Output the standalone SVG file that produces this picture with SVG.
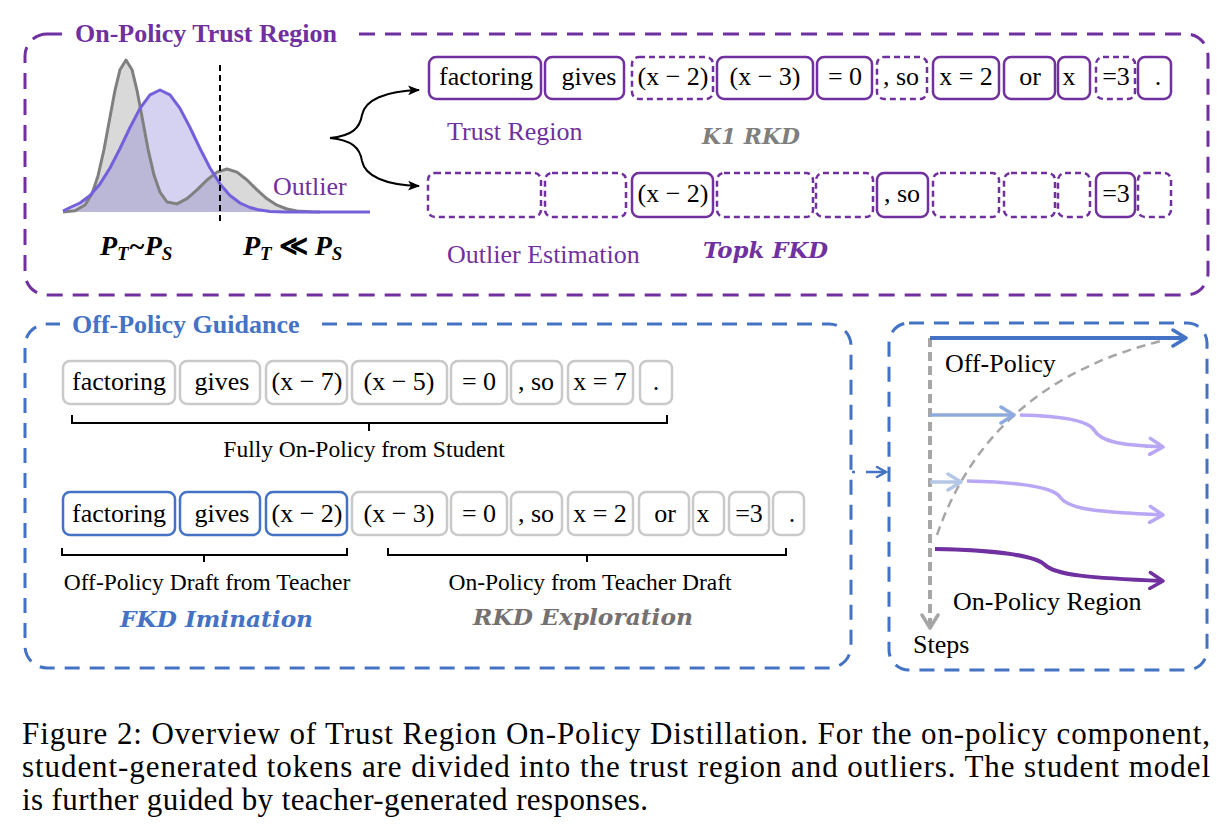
<svg xmlns="http://www.w3.org/2000/svg" width="1229" height="832" viewBox="0 0 1229 832">
<style>
.t{font-family:"Liberation Serif","Times New Roman",serif;font-size:26px;fill:#000;text-anchor:middle}
.s{font-family:"Liberation Serif","Times New Roman",serif;font-size:23.5px;fill:#000;text-anchor:middle}
.lab{font-family:"Liberation Serif","Times New Roman",serif;font-size:26px;fill:#000}
.pl{font-family:"Liberation Serif","Times New Roman",serif;font-size:26px;fill:#7030A0}
.bi{font-family:"DejaVu Serif",serif;font-weight:bold;font-style:italic;font-size:22px}
.title{font-family:"Liberation Serif","Times New Roman",serif;font-weight:bold;font-size:26px}
.cap{font-family:"Liberation Serif","Times New Roman",serif;font-size:31px;fill:#000}
.ps{fill:none;stroke:#7030A0;stroke-width:2.5}
.pd{fill:none;stroke:#7030A0;stroke-width:2.5;stroke-dasharray:6 4}
.gs{fill:none;stroke:#C9C9C9;stroke-width:2.5}
.bs{fill:none;stroke:#4472C4;stroke-width:2.5}
.brace{fill:none;stroke:#000;stroke-width:2}
</style>
<defs>
<marker id="mk" viewBox="0 0 12 10" refX="11" refY="5" markerWidth="12" markerHeight="10" markerUnits="userSpaceOnUse" orient="auto"><path d="M0,0 L12,5 L0,10 L3,5 Z" fill="#000"/></marker>
<marker id="cb" viewBox="0 0 20 20" refX="17" refY="10" markerWidth="20" markerHeight="20" markerUnits="userSpaceOnUse" orient="auto"><path d="M4,2 L17,10 L4,18" fill="none" stroke="#4472C4" stroke-width="3.5" stroke-linecap="round" stroke-linejoin="round"/></marker>
<marker id="cl1" viewBox="0 0 20 20" refX="17" refY="10" markerWidth="20" markerHeight="20" markerUnits="userSpaceOnUse" orient="auto"><path d="M4,2 L17,10 L4,18" fill="none" stroke="#8FAADC" stroke-width="3.5" stroke-linecap="round" stroke-linejoin="round"/></marker>
<marker id="cl2" viewBox="0 0 20 20" refX="17" refY="10" markerWidth="20" markerHeight="20" markerUnits="userSpaceOnUse" orient="auto"><path d="M4,2 L17,10 L4,18" fill="none" stroke="#B4C7E7" stroke-width="3.5" stroke-linecap="round" stroke-linejoin="round"/></marker>
<marker id="cv" viewBox="0 0 20 20" refX="17" refY="10" markerWidth="20" markerHeight="20" markerUnits="userSpaceOnUse" orient="auto"><path d="M4,2 L17,10 L4,18" fill="none" stroke="#B9A6F5" stroke-width="3.5" stroke-linecap="round" stroke-linejoin="round"/></marker>
<marker id="cp" viewBox="0 0 20 20" refX="17" refY="10" markerWidth="20" markerHeight="20" markerUnits="userSpaceOnUse" orient="auto"><path d="M4,2 L17,10 L4,18" fill="none" stroke="#7030A0" stroke-width="3.5" stroke-linecap="round" stroke-linejoin="round"/></marker>
<marker id="cg" viewBox="0 0 20 20" refX="17" refY="10" markerWidth="20" markerHeight="20" markerUnits="userSpaceOnUse" orient="auto"><path d="M4,2 L17,10 L4,18" fill="none" stroke="#A6A6A6" stroke-width="3.5" stroke-linecap="round" stroke-linejoin="round"/></marker>
<marker id="cs" viewBox="0 0 14 14" refX="12" refY="7" markerWidth="14" markerHeight="14" markerUnits="userSpaceOnUse" orient="auto"><path d="M3,2 L12,7 L3,12" fill="none" stroke="#4472C4" stroke-width="2.5" stroke-linecap="round"/></marker>
</defs>
<rect width="1229" height="832" fill="#fff"/>

<!-- On-Policy Trust Region panel -->
<g id="trust-region-panel">
<rect x="25" y="34" width="1183" height="261" rx="22" fill="none" stroke="#7030A0" stroke-width="3" stroke-dasharray="16 10"/>
<rect x="62" y="20" width="290" height="30" fill="#fff"/>
<text class="title" x="75" y="42" fill="#7030A0">On-Policy Trust Region</text>
</g>

<g id="distribution">
<path d="M63,211.9 L75,210.7 L85,205 L92,193.8 L98,175.9 L104,149.5 L110,117 L115,90.3 L120,69.7 L126,60 L132,69.7 L137,90.3 L142,116.8 L148,149.1 L154,175.1 L160,192.2 L167,202 L177,203.9 L187,198.6 L197,189.9 L207,180 L217,172.1 L227,169 L237,172.1 L247,180 L257,189.9 L267,198.8 L277,205.2 L287,209 L297,210.9 L310,211.7 L320,212 L63,212 Z" fill="#D9D9D9" stroke="none"/>
<path d="M63,211 L70,207.5 L80,203 L90,195.5 L100,183.9 L110,168 L120,148.5 L130,127.5 L140,108.4 L150,94.9 L160,90 L170,94.9 L180,108.4 L190,127.5 L200,148.5 L210,168 L220,183.9 L230,195.5 L240,203 L250,207.5 L257,209.4 L270,211.5 L285,212 L63,212 Z" fill="#7B6FD0" fill-opacity="0.32" stroke="none"/>
<path d="M63,211.9 L75,210.7 L85,205 L92,193.8 L98,175.9 L104,149.5 L110,117 L115,90.3 L120,69.7 L126,60 L132,69.7 L137,90.3 L142,116.8 L148,149.1 L154,175.1 L160,192.2 L167,202 L177,203.9 L187,198.6 L197,189.9 L207,180 L217,172.1 L227,169 L237,172.1 L247,180 L257,189.9 L267,198.8 L277,205.2 L287,209 L297,210.9 L310,211.7 L320,212" fill="none" stroke="#808080" stroke-width="3" stroke-linejoin="round"/>
<path d="M63,211 L70,207.5 L80,203 L90,195.5 L100,183.9 L110,168 L120,148.5 L130,127.5 L140,108.4 L150,94.9 L160,90 L170,94.9 L180,108.4 L190,127.5 L200,148.5 L210,168 L220,183.9 L230,195.5 L240,203 L250,207.5 L257,209.4 L270,211.5 L285,212 L370,212" fill="none" stroke="#7460DB" stroke-width="3" stroke-linejoin="round"/>
<line x1="220" y1="65" x2="220" y2="225" stroke="#000" stroke-width="2" stroke-dasharray="6 4"/>
<text class="pl" x="273" y="195">Outlier</text>
<text x="100" y="255" font-family="Liberation Serif, serif" font-weight="bold" font-style="italic" font-size="28">P<tspan font-size="19" dy="5">T</tspan><tspan dy="-5">~P</tspan><tspan font-size="19" dy="5">S</tspan></text>
<text x="243" y="255" font-family="Liberation Serif, serif" font-weight="bold" font-style="italic" font-size="28">P<tspan font-size="19" dy="5">T</tspan><tspan dy="-5" font-style="normal"> ≪ </tspan><tspan>P</tspan><tspan font-size="19" dy="5">S</tspan></text>
</g>

<g id="connectors">
<path d="M330,138 C352,136 360,128 362,115 C365,100 385,91 419,90" fill="none" stroke="#000" stroke-width="2" marker-end="url(#mk)"/>
<path d="M330,138 C352,140 360,148 362,161 C365,176 385,185 419,186" fill="none" stroke="#000" stroke-width="2" marker-end="url(#mk)"/>
<line x1="852" y1="472" x2="886" y2="472" stroke="#4472C4" stroke-width="2.5" stroke-dasharray="3 11 100" marker-end="url(#cs)"/>
</g>

<g id="trust-row">
<rect class="ps" x="429" y="57" width="112" height="42" rx="7"/><text class="t" x="486" y="85">factoring</text>
<rect class="ps" x="545" y="57" width="79" height="42" rx="7"/><text class="t" x="589" y="85">gives</text>
<rect class="pd" x="632" y="57" width="81" height="42" rx="7"/><text class="t" x="673" y="85">(x − 2)</text>
<rect class="ps" x="717" y="57" width="96" height="42" rx="7"/><text class="t" x="765" y="85">(x − 3)</text>
<rect class="ps" x="817" y="57" width="55" height="42" rx="7"/><text class="t" x="845" y="85">= 0</text>
<rect class="pd" x="877" y="57" width="50" height="42" rx="7"/><text class="t" x="901" y="85">, so</text>
<rect class="ps" x="933" y="57" width="66" height="42" rx="7"/><text class="t" x="966" y="85">x = 2</text>
<rect class="ps" x="1004" y="57" width="51" height="42" rx="7"/><text class="t" x="1030" y="85">or</text>
<rect class="ps" x="1058" y="57" width="32" height="42" rx="7"/><text class="t" x="1069" y="85">x</text>
<rect class="pd" x="1096" y="57" width="39" height="42" rx="7"/><text class="t" x="1116" y="85">=3</text>
<rect class="ps" x="1138" y="57" width="33" height="42" rx="7"/><text class="t" x="1158" y="85">.</text>
<text class="pl" x="447" y="140">Trust Region</text>
<text class="bi" x="702" y="144" fill="#7F7F7F" textLength="98" lengthAdjust="spacingAndGlyphs">K1 RKD</text>
</g>

<g id="outlier-row">
<rect class="pd" x="428" y="173" width="113" height="44" rx="7"/>
<rect class="pd" x="545" y="173" width="81" height="44" rx="7"/>
<rect class="ps" x="632" y="173" width="81" height="44" rx="7"/><text class="t" x="673" y="202">(x − 2)</text>
<rect class="pd" x="717" y="173" width="96" height="44" rx="7"/>
<rect class="pd" x="816" y="173" width="57" height="44" rx="7"/>
<rect class="ps" x="877" y="173" width="51" height="44" rx="7"/><text class="t" x="902" y="202">, so</text>
<rect class="pd" x="933" y="173" width="66" height="44" rx="7"/>
<rect class="pd" x="1004" y="173" width="51" height="44" rx="7"/>
<rect class="pd" x="1058" y="173" width="32" height="44" rx="7"/>
<rect class="ps" x="1096" y="173" width="39" height="44" rx="7"/><text class="t" x="1116" y="202">=3</text>
<rect class="pd" x="1138" y="173" width="33" height="44" rx="7"/>
<text class="pl" x="447" y="263">Outlier Estimation</text>
<text class="bi" x="703" y="258" fill="#7030A0" textLength="125" lengthAdjust="spacingAndGlyphs">Topk FKD</text>
</g>

<!-- Off-Policy Guidance panel -->
<g id="off-policy-panel">
<rect x="25" y="324" width="826" height="344" rx="22" fill="none" stroke="#4472C4" stroke-width="3" stroke-dasharray="15 10"/>
<rect x="60" y="310" width="255" height="30" fill="#fff"/>
<text class="title" x="72" y="333" fill="#4472C4">Off-Policy Guidance</text>
</g>

<g id="student-row">
<rect class="gs" x="63" y="361" width="112" height="43" rx="7"/><text class="t" x="119" y="390">factoring</text>
<rect class="gs" x="180" y="361" width="80" height="43" rx="7"/><text class="t" x="222" y="390">gives</text>
<rect class="gs" x="266" y="361" width="81" height="43" rx="7"/><text class="t" x="307" y="390">(x − 7)</text>
<rect class="gs" x="352" y="361" width="95" height="43" rx="7"/><text class="t" x="399" y="390">(x − 5)</text>
<rect class="gs" x="451" y="361" width="56" height="43" rx="7"/><text class="t" x="479" y="390">= 0</text>
<rect class="gs" x="511" y="361" width="51" height="43" rx="7"/><text class="t" x="536" y="390">, so</text>
<rect class="gs" x="568" y="361" width="65" height="43" rx="7"/><text class="t" x="600" y="390">x = 7</text>
<rect class="gs" x="640" y="361" width="32" height="43" rx="7"/><text class="t" x="656" y="390">.</text>
<path class="brace" d="M72,415 V423 H667 V415 M369,423 V431"/>
<text class="s" x="364" y="457">Fully On-Policy from Student</text>
</g>

<g id="teacher-row">
<rect class="bs" x="63" y="492" width="112" height="43" rx="7"/><text class="t" x="119" y="522">factoring</text>
<rect class="bs" x="180" y="492" width="80" height="43" rx="7"/><text class="t" x="222" y="522">gives</text>
<rect class="bs" x="266" y="492" width="81" height="43" rx="7"/><text class="t" x="307" y="522">(x − 2)</text>
<rect class="gs" x="352" y="492" width="95" height="43" rx="7"/><text class="t" x="399" y="522">(x − 3)</text>
<rect class="gs" x="451" y="492" width="56" height="43" rx="7"/><text class="t" x="479" y="522">= 0</text>
<rect class="gs" x="511" y="492" width="51" height="43" rx="7"/><text class="t" x="536" y="522">, so</text>
<rect class="gs" x="568" y="492" width="65" height="43" rx="7"/><text class="t" x="600" y="522">x = 2</text>
<rect class="gs" x="639" y="492" width="50" height="43" rx="7"/><text class="t" x="665" y="522">or</text>
<rect class="gs" x="693" y="492" width="31" height="43" rx="7"/><text class="t" x="703" y="522">x</text>
<rect class="gs" x="729" y="492" width="40" height="43" rx="7"/><text class="t" x="749" y="522">=3</text>
<rect class="gs" x="773" y="492" width="31" height="43" rx="7"/><text class="t" x="792" y="522">.</text>
<path class="brace" d="M62,548 V555 H347 V548 M204,555 V562"/>
<path class="brace" d="M388,548 V555 H786 V548 M587,555 V562"/>
<text class="s" x="207" y="590">Off-Policy Draft from Teacher</text>
<text class="s" x="590" y="590">On-Policy from Teacher Draft</text>
<text class="bi" x="120" y="627" fill="#4472C4" textLength="193" lengthAdjust="spacingAndGlyphs">FKD Imination</text>
<text class="bi" x="473" y="625" fill="#767171" textLength="220" lengthAdjust="spacingAndGlyphs">RKD Exploration</text>
</g>

<!-- Steps panel -->
<g id="steps-panel">
<rect x="889" y="323" width="318" height="347" rx="20" fill="none" stroke="#4472C4" stroke-width="3" stroke-dasharray="15 10"/>
<path d="M937,535 C970,440 1040,370 1165,340" fill="none" stroke="#A6A6A6" stroke-width="2.5" stroke-dasharray="9 6"/>
<line x1="930" y1="338" x2="930" y2="628" stroke="#A6A6A6" stroke-width="4" stroke-dasharray="9 5" marker-end="url(#cg)"/>
<line x1="930" y1="338" x2="1186" y2="338" stroke="#4472C4" stroke-width="4" marker-end="url(#cb)"/>
<line x1="930" y1="415" x2="1014" y2="415" stroke="#8FAADC" stroke-width="3.5" marker-end="url(#cl1)"/>
<path d="M1020,415 C1060,416 1088,420 1094,430 C1101,442 1120,445 1163,447" fill="none" stroke="#B9A6F5" stroke-width="3.5" marker-end="url(#cv)"/>
<line x1="930" y1="482" x2="961" y2="482" stroke="#B4C7E7" stroke-width="3.5" marker-end="url(#cl2)"/>
<path d="M967,481 C1010,482 1052,486 1060,497 C1069,510 1100,512 1163,515" fill="none" stroke="#B9A6F5" stroke-width="3.5" marker-end="url(#cv)"/>
<path d="M935,549 C990,550 1035,555 1045,565 C1055,575 1090,578 1163,581" fill="none" stroke="#7030A0" stroke-width="4" marker-end="url(#cp)"/>
<text class="lab" x="945" y="372">Off-Policy</text>
<text class="lab" x="953" y="610">On-Policy Region</text>
<text class="lab" x="913" y="653">Steps</text>
</g>

<g id="caption">
<text class="cap" x="22" y="744" textLength="1188" lengthAdjust="spacing">Figure 2: Overview of Trust Region On-Policy Distillation. For the on-policy component,</text>
<text class="cap" x="22" y="777" textLength="1188" lengthAdjust="spacing">student-generated tokens are divided into the trust region and outliers. The student model</text>
<text class="cap" x="22" y="810" textLength="626" lengthAdjust="spacing">is further guided by teacher-generated responses.</text>
</g>
</svg>
